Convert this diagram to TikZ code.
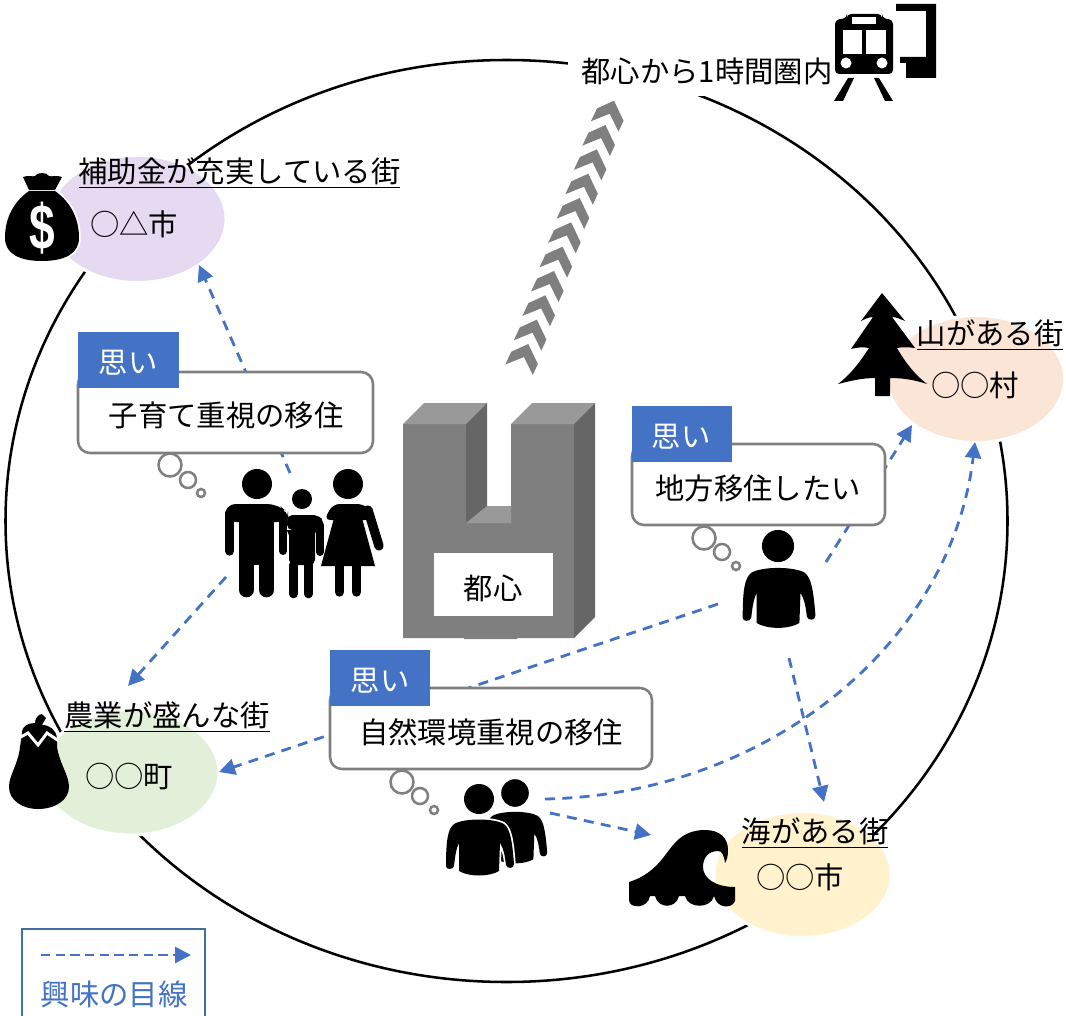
\documentclass[tikz,border=0pt]{standalone}
\usepackage{fontspec}
\setmainfont{Noto Sans CJK JP}
\newfontfamily\dollarfont{Liberation Sans}
\usetikzlibrary{arrows.meta}
\definecolor{blu}{HTML}{4472C4}
\definecolor{legendline}{HTML}{41719C}
\definecolor{grayline}{HTML}{808080}
\definecolor{frontgray}{HTML}{7F7F7F}
\definecolor{topgray}{HTML}{999999}
\definecolor{sidegray}{HTML}{666666}
\definecolor{purp}{HTML}{E6D9F2}
\definecolor{grn}{HTML}{E2F0D9}
\definecolor{org}{HTML}{FBE5D6}
\definecolor{yel}{HTML}{FFF2CC}
\tikzset{
  txt/.style={inner sep=0pt,yshift=-0.75pt,font=\fontsize{22}{26}\selectfont},
  town/.style={fill=#1,draw=white,line width=2.2pt},
  look/.style={draw=blu,line width=2.1pt,dash pattern=on 7.5pt off 5.5pt,-{Triangle[length=12pt,width=12pt,fill=blu]}},
  thought/.style={draw=grayline,line width=1.9pt,fill=white,rounded corners=9pt},
  puff/.style={draw=grayline,line width=1.9pt,fill=white},
  tag/.style={fill=blu},
  personicon/.pic={
    \fill[black] (0,0) circle[radius=15];
    \fill[black,preaction={draw=white,line width=2.6pt}] (-33,67) .. controls (-33,40) and (-31,30) .. (-25,25)
      .. controls (-15,19) and (15,19) .. (25,25) .. controls (31,30) and (33,40) .. (35,65)
      .. controls (35,70) and (28,70) .. (27,66) .. controls (26,58) and (25,50) .. (21,44)
      -- (20,72) .. controls (10,78) and (-10,78) .. (-20,72) -- (-20,44)
      .. controls (-23,50) and (-24,58) .. (-25,67) .. controls (-26,71) and (-33,71) .. (-33,67) -- cycle;
  }
}
\begin{document}
\begin{tikzpicture}[x=0.75pt,y=-0.75pt]
\useasboundingbox (0,0) rectangle (1066,1016);
\fill[white] (0,0) rectangle (1066,1016);
% large circle
\draw[black,line width=1.9pt] (506.5,521) ellipse [x radius=501,y radius=461];
% towns
\path[town=purp] (137.5,219) ellipse [x radius=88.5,y radius=63.5];
\path[town=grn] (130.5,772.5) ellipse [x radius=88.5,y radius=62.5];
\path[town=org] (976,379) ellipse [x radius=88.5,y radius=63.5];
\path[town=yel] (802.5,874.5) ellipse [x radius=88.5,y radius=63];
% header
\fill[white] (568,44) rectangle (845,96);
\node[txt] (head) at (707,70) {都心から1時間圏内};
% chevrons
\foreach \i in {0,...,10}{
  \pgfmathsetmacro{\ax}{528.3+8.57*\i}
  \pgfmathsetmacro{\ay}{344-24.33*\i}
  \begin{scope}[shift={(\ax,\ay)}]
    \fill[frontgray] (0,0) -- (9.5,20) -- (4.5,31) -- (-4.3,13) -- (-23,20.5) -- (-17,7.7) -- cycle;
  \end{scope}
}
% connector ends
\coordinate (famA) at (290,473); \coordinate (subsidy) at (199,265);
\coordinate (famB) at (226,577); \coordinate (farm) at (128,686);
\coordinate (manA) at (718,604); \coordinate (farmB) at (219,772);
\coordinate (manB) at (826,562); \coordinate (mount) at (912,425);
\coordinate (manC) at (789,658); \coordinate (sea) at (824,802);
\coordinate (pairA) at (545,799); \coordinate (mountB) at (975,442);
\coordinate (pairB) at (550,813); \coordinate (seaB) at (651,835);
\coordinate (legS) at (41,955); \coordinate (legE) at (191,955);
\draw[look] (famA) -- (subsidy);
\draw[look] (famB) -- (farm);
\draw[look] (manA) -- (farmB);
\draw[look] (manB) -- (mount);
\draw[look] (manC) -- (sea);
\draw[look] (pairA) .. controls (760,795) and (950,650) .. (mountB);
\draw[look] (pairB) -- (seaB);
% building
\fill[frontgray] (403,424) -- (466,424) -- (466,523) -- (511,523) -- (511,424) -- (574,424) -- (574,638) -- (517,638) -- (517,639) -- (464,639) -- (464,638) -- (403,638) -- cycle;
\fill[topgray] (403,424) -- (466,424) -- (487,403) -- (424,403) -- cycle;
\fill[topgray] (511,424) -- (574,424) -- (595,403) -- (532,403) -- cycle;
\fill[topgray] (466,523) -- (487,506) -- (511,506) -- (511,523) -- cycle;
\fill[sidegray] (466,424) -- (487,403) -- (487,506) -- (466,523) -- cycle;
\fill[sidegray] (574,424) -- (595,403) -- (595,617) -- (574,638) -- cycle;
\fill[white] (434,553) rectangle (553,616);
\node[txt] (centre) at (493,587) {都心};
% thought boxes
\draw[thought] (78,372) rectangle (373,453);
\fill[tag] (78,332) rectangle (179,388);
\node[txt,text=white] (tagA) at (128,362) {思い};
\node[txt] (thinkA) at (226,414) {子育て重視の移住};
\draw[puff] (170,465) circle[radius=11.5];
\draw[puff] (188,480) circle[radius=8];
\draw[puff] (201,493) circle[radius=4];
\draw[thought] (632,444) rectangle (885,525);
\fill[tag] (632,406) rectangle (732,462);
\node[txt,text=white] (tagB) at (681,436) {思い};
\node[txt] (thinkB) at (758,487) {地方移住したい};
\draw[puff] (704,538) circle[radius=11.5];
\draw[puff] (722,552) circle[radius=8];
\draw[puff] (736,566) circle[radius=4];
\draw[thought] (330,688) rectangle (652,769);
\fill[tag] (330,650) rectangle (430,706);
\node[txt,text=white] (tagC) at (380,680) {思い};
\node[txt] (thinkC) at (491,731) {自然環境重視の移住};
\draw[puff] (402,782) circle[radius=11.5];
\draw[puff] (420,796) circle[radius=8];
\draw[puff] (434,810) circle[radius=4];
% people
\pic at (515,793) [scale=0.92] {personicon};
\pic at (479,799) {personicon};
\pic at (778,546) [scale=1.07] {personicon};
% family: man
\fill (257,484) circle[radius=15];
\fill[rounded corners=8pt] (225,522) -- (225,504) -- (278,504) -- (288,513) -- (288,522) -- cycle;
\fill[black] (239,510) rectangle (274,565);
\draw[black,line width=11pt,line cap=round] (246.5,560) -- (246.5,590);
\draw[black,line width=11pt,line cap=round] (266.5,560) -- (266.5,590);
\draw[black,line width=6pt,line cap=round] (283,515) -- (283,551);
\draw[black,line width=7pt,line cap=round] (229.7,515) -- (229.7,551);
% family: woman
\fill (348,484) circle[radius=15];
\fill[rounded corners=5pt] (324,520) -- (333,504) -- (364,504) -- (372,512) -- (372,520) -- cycle;
\fill[black] (334,518) -- (362,518) -- (375,566) -- (321,566) -- cycle;
\draw[black,line width=7pt,line cap=round] (368,510) -- (379,546);
\draw[black,line width=7pt,line cap=round] (339.5,566) -- (339.5,592);
\draw[black,line width=7pt,line cap=round] (356.5,566) -- (356.5,592);
% family: child
\fill (302,499) circle[radius=10];
\fill[black,rounded corners=4pt] (287,515) -- (318,515) -- (325,522) -- (315,530) -- (315,565) -- (289,565) -- (289,530) -- (287,530) -- cycle;
\draw[black,line width=6.5pt,line cap=round] (293.5,565) -- (293.5,594);
\draw[black,line width=6.5pt,line cap=round] (308.5,565) -- (308.5,594);
\draw[black,line width=6pt,line cap=round] (320,525) -- (320,552);
% money bag
\fill[black,preaction={draw=white,line width=2.6pt}] (29,191) .. controls (12,203) and (5,220) .. (5,238) .. controls (5,254) and (20,261) .. (42,261) .. controls (64,261) and (79,254) .. (79,238) .. controls (79,220) and (72,203) .. (55,191) -- cycle;
\fill[black] (29,190) -- (23,177) .. controls (28,175) and (33,177) .. (35,176) .. controls (37,172) and (47,172) .. (49,176) .. controls (52,177) and (57,175) .. (62,177) -- (55,190) -- cycle;
\node[inner sep=0pt,text=white,font=\dollarfont\bfseries\fontsize{48}{50}\selectfont,transform shape,xscale=0.72] (dollar) at (42,228) {\$};
% eggplant
\fill[black] (22,733) .. controls (22,726) and (28,723) .. (35,723) .. controls (35,719) and (38,714) .. (42,714) -- (46,718) -- (42,725) .. controls (50,725) and (56,730) .. (57,738) -- (57,747) .. controls (60,765) and (69,775) .. (69,787) .. controls (69,800) and (55,809) .. (38,809) .. controls (22,809) and (9,800) .. (9,787) .. controls (9,775) and (18,765) .. (20,747) -- cycle;
\draw[white,line width=2.2pt] (19,738) -- (28,733) -- (38,745) -- (47,733) -- (59,741);
% tree
\fill[black] (882,293) -- (905,321) .. controls (900,319) and (896,317) .. (892,317) -- (915,348) .. controls (908,347) and (902,347) .. (897,348) .. controls (905,362) and (915,375) .. (927,384) .. controls (915,380) and (903,378) .. (890,378) -- (890,396) -- (875,396) -- (875,378) .. controls (862,378) and (850,381) .. (838,384) .. controls (850,375) and (860,362) .. (869,348) .. controls (864,347) and (858,347) .. (851,349) -- (873,317) .. controls (869,317) and (865,319) .. (861,321) -- cycle;
% wave
\fill[black] (629,882) .. controls (645,877) and (655,868) .. (663,858) .. controls (672,847) and (680,830) .. (705,830) .. controls (720,830) and (728,838) .. (728,850) .. controls (728,856) and (727,860) .. (725,863) .. controls (724,855) and (722,851) .. (718,851) .. controls (708,851) and (703,858) .. (703,867) .. controls (703,878) and (715,887) .. (735,887) -- (735,901) .. controls (732,909) and (717,909) .. (714,896) .. controls (711,909) and (688,909) .. (685,896) -- (679,896) .. controls (676,909) and (658,909) .. (655,896) -- (650,896) .. controls (648,909) and (629,909) .. (629,900) -- cycle;
% train
\fill[black,rounded corners=3pt] (835,20) -- (847,18) -- (847,14) -- (882,14) -- (882,18) -- (893,20) -- (893,74) -- (835,74) -- cycle;
\fill[white] (852,17) rectangle (876,24);
\fill[white] (843,30) rectangle (862,54);
\fill[white] (866,30) rectangle (886,54);
\fill[white] (846,63) circle[radius=5.5];
\fill[white] (882,63) circle[radius=5.5];
\fill[black] (848,78) -- (854,78) -- (843,101) -- (834,101) -- cycle;
\fill[black] (874,78) -- (879,78) -- (893,101) -- (885,101) -- cycle;
\fill[black] (896,4) -- (936,4) -- (936,78) -- (906,78) -- (906,63) -- (900,63) -- (900,57) -- (926,57) -- (926,11) -- (896,11) -- cycle;
% town labels
\node[txt] (cityA) at (134,223) {○△市};
\node[txt] (nameA) at (239.5,172) {\underline{補助金が充実している街}};
\node[txt] (cityB) at (129,775) {○○町};
\node[txt] (nameB) at (167,716) {\underline{農業が盛んな街}};
\node[txt] (cityC) at (975,384) {○○村};
\node[txt] (nameC) at (990,334) {\underline{山がある街}};
\node[txt] (cityD) at (800,876) {○○市};
\node[txt] (nameD) at (815,832) {\underline{海がある街}};
% legend
\draw[legendline,line width=2.2pt] (22,1016) -- (22,929) -- (205,929) -- (205,1016);
\draw[look,dash pattern=on 7pt off 4pt] (legS) -- (legE);
\node[txt,text=blu] (legendtext) at (114,993) {興味の目線};
\end{tikzpicture}
\end{document}
